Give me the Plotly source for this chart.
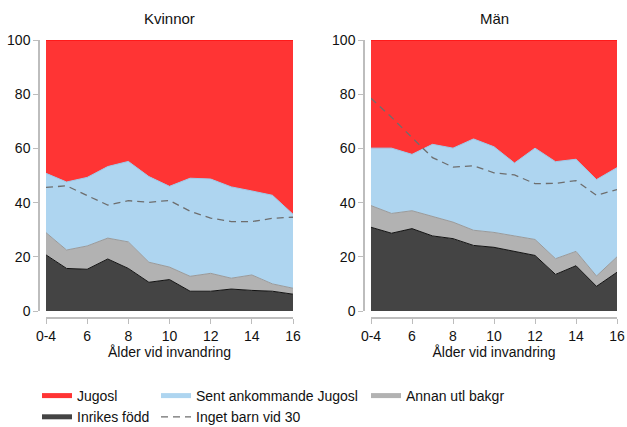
import plotly.graph_objects as go

# ---------------- data ----------------
ages = [4, 5, 6, 7, 8, 9, 10, 11, 12, 13, 14, 15, 16]
tick_vals = [4, 6, 8, 10, 12, 14, 16]
tick_text = ["0-4", "6", "8", "10", "12", "14", "16"]
y_ticks = [0, 20, 40, 60, 80, 100]

panels = ["Kvinnor", "Män"]

# Kvinnor (women) shares, %
k_inrikes = [20.7, 15.7, 15.4, 19.2, 15.7, 10.6, 11.6, 7.3, 7.3, 8.1, 7.6, 7.3, 6.2]
k_annan = [8.2, 6.8, 8.6, 7.7, 9.8, 7.4, 4.6, 5.5, 6.6, 4.0, 5.7, 2.7, 2.2]
k_sent = [21.9, 25.1, 25.3, 26.4, 29.7, 31.6, 29.8, 36.2, 34.8, 33.7, 31.0, 32.7, 27.3]
k_jugosl = [49.2, 52.4, 50.7, 46.7, 44.8, 50.4, 54.0, 51.0, 51.3, 54.2, 55.7, 57.3, 64.3]
k_inget_barn = [45.6, 46.2, 42.6, 39.1, 40.7, 40.1, 40.8, 36.8, 34.3, 33.0, 33.0, 34.2, 34.6]

# Män (men) shares, %
m_inrikes = [30.9, 28.7, 30.4, 27.7, 26.7, 24.2, 23.5, 22.0, 20.5, 13.5, 16.7, 9.1, 14.3]
m_annan = [8.0, 7.3, 6.6, 7.1, 6.1, 5.6, 5.5, 5.7, 5.9, 5.8, 5.3, 3.8, 5.7]
m_sent = [21.2, 24.1, 20.8, 26.7, 27.3, 33.7, 31.6, 26.9, 33.7, 35.8, 34.0, 35.6, 32.9]
m_jugosl = [39.9, 39.9, 42.2, 38.5, 39.9, 36.5, 39.4, 45.4, 39.9, 44.9, 44.0, 51.5, 47.1]
m_inget_barn = [78.5, 71.5, 64.0, 56.6, 53.1, 53.6, 51.0, 50.2, 47.0, 47.1, 48.1, 42.7, 44.8]

series_names = ["Inrikes född", "Annan utl bakgr", "Sent ankommande Jugosl", "Jugosl"]
line_name = "Inget barn vid 30"

# ---------------- style ----------------
fills = ["#444444", "#b2b2b2", "#aed5f0", "#ff3434"]
edges = ["#111111", "#9a9a9a", "#9ccbec", "#ff0000"]
legend_of = ["legend", "legend3", "legend2", "legend"]
rank_of = [2, 1, 1, 1]
FONT = "Liberation Sans, Arial, sans-serif"
AX = "#bdbdbd"

fig = go.Figure()

data = [
    ([k_inrikes, k_annan, k_sent, k_jugosl], k_inget_barn),
    ([m_inrikes, m_annan, m_sent, m_jugosl], m_inget_barn),
]

for p, (stack, line) in enumerate(data):
    xa = "x" if p == 0 else "x2"
    ya = "y" if p == 0 else "y2"
    for i, vals in enumerate(stack):
        fig.add_trace(go.Scatter(
            x=ages, y=vals, xaxis=xa, yaxis=ya,
            stackgroup="s%d" % p, mode="lines",
            line=dict(color=edges[i], width=1),
            fillcolor=fills[i],
            name=series_names[i],
            showlegend=False,
            hoverinfo="skip",
        ))
    fig.add_trace(go.Scatter(
        x=ages, y=line, xaxis=xa, yaxis=ya, mode="lines",
        line=dict(color="#6e6e6e", width=1.3, dash="7px,5px"),
        name=line_name, showlegend=(p == 0),
        legend="legend2", legendrank=2, hoverinfo="skip",
    ))

# legend keys for the stacked areas (thin bars like the original key symbols)
for i, name in enumerate(series_names):
    fig.add_trace(go.Scatter(
        x=[None], y=[None], mode="lines",
        line=dict(color=fills[i], width=5),
        name=name, showlegend=True,
        legend=legend_of[i], legendrank=rank_of[i], hoverinfo="skip",
    ))

W, H = 627, 427
def px_x(v):
    return v / W
def px_y(v):
    return (H - v) / H

x_domains = [[px_x(46), px_x(293)], [px_x(371), px_x(617)]]
y_domain = [px_y(311), px_y(40)]
yaxis_pos = [px_x(39), px_x(364)]
xaxis_pos = px_y(318)

common_x = dict(range=[4, 16], anchor="free", position=xaxis_pos,
                showline=True, linecolor=AX, linewidth=1.5,
                ticks="outside", ticklen=5, tickcolor=AX, tickwidth=1,
                tickvals=tick_vals, ticktext=tick_text,
                showgrid=False, zeroline=False, automargin=False,
                tickfont=dict(size=14, color="#111"),
                title=dict(text="Ålder vid invandring", font=dict(size=14, color="#111"),
                           standoff=4))
common_y = dict(range=[0, 100], domain=y_domain, anchor="free",
                showline=True, linecolor=AX, linewidth=1.5,
                ticks="outside", ticklen=5, tickcolor=AX, tickwidth=1,
                tickvals=y_ticks, showgrid=False, zeroline=False, automargin=False,
                tickfont=dict(size=14, color="#111"))

legend_common = dict(orientation="v", xanchor="left", yanchor="top",
                     y=px_y(380), bgcolor="rgba(0,0,0,0)", traceorder="normal",
                     font=dict(size=14, color="#111", family=FONT),
                     tracegroupgap=0, itemclick=False, itemdoubleclick=False)

fig.update_layout(
    width=W, height=H,
    margin=dict(l=0, r=0, t=0, b=0, pad=0, autoexpand=False),
    paper_bgcolor="white", plot_bgcolor="white",
    font=dict(family=FONT, size=14, color="#111"),
    xaxis=dict(domain=x_domains[0], **common_x),
    xaxis2=dict(domain=x_domains[1], **common_x),
    yaxis=dict(position=yaxis_pos[0], **common_y),
    yaxis2=dict(position=yaxis_pos[1], **common_y),
    legend=dict(x=px_x(37), **legend_common),
    legend2=dict(x=px_x(156), **legend_common),
    legend3=dict(x=px_x(366), **legend_common),
    showlegend=True,
    hovermode=False,
)

for p, title in enumerate(panels):
    fig.add_annotation(text=title, xref="paper", yref="paper",
                       x=sum(x_domains[p]) / 2, y=px_y(18),
                       xanchor="center", yanchor="middle", showarrow=False,
                       font=dict(size=15, color="#111", family=FONT))

fig.write_html(
    "out.html",
    config={"displayModeBar": False},
    post_script="document.body.style.margin='0';document.body.style.overflow='hidden';",
)
